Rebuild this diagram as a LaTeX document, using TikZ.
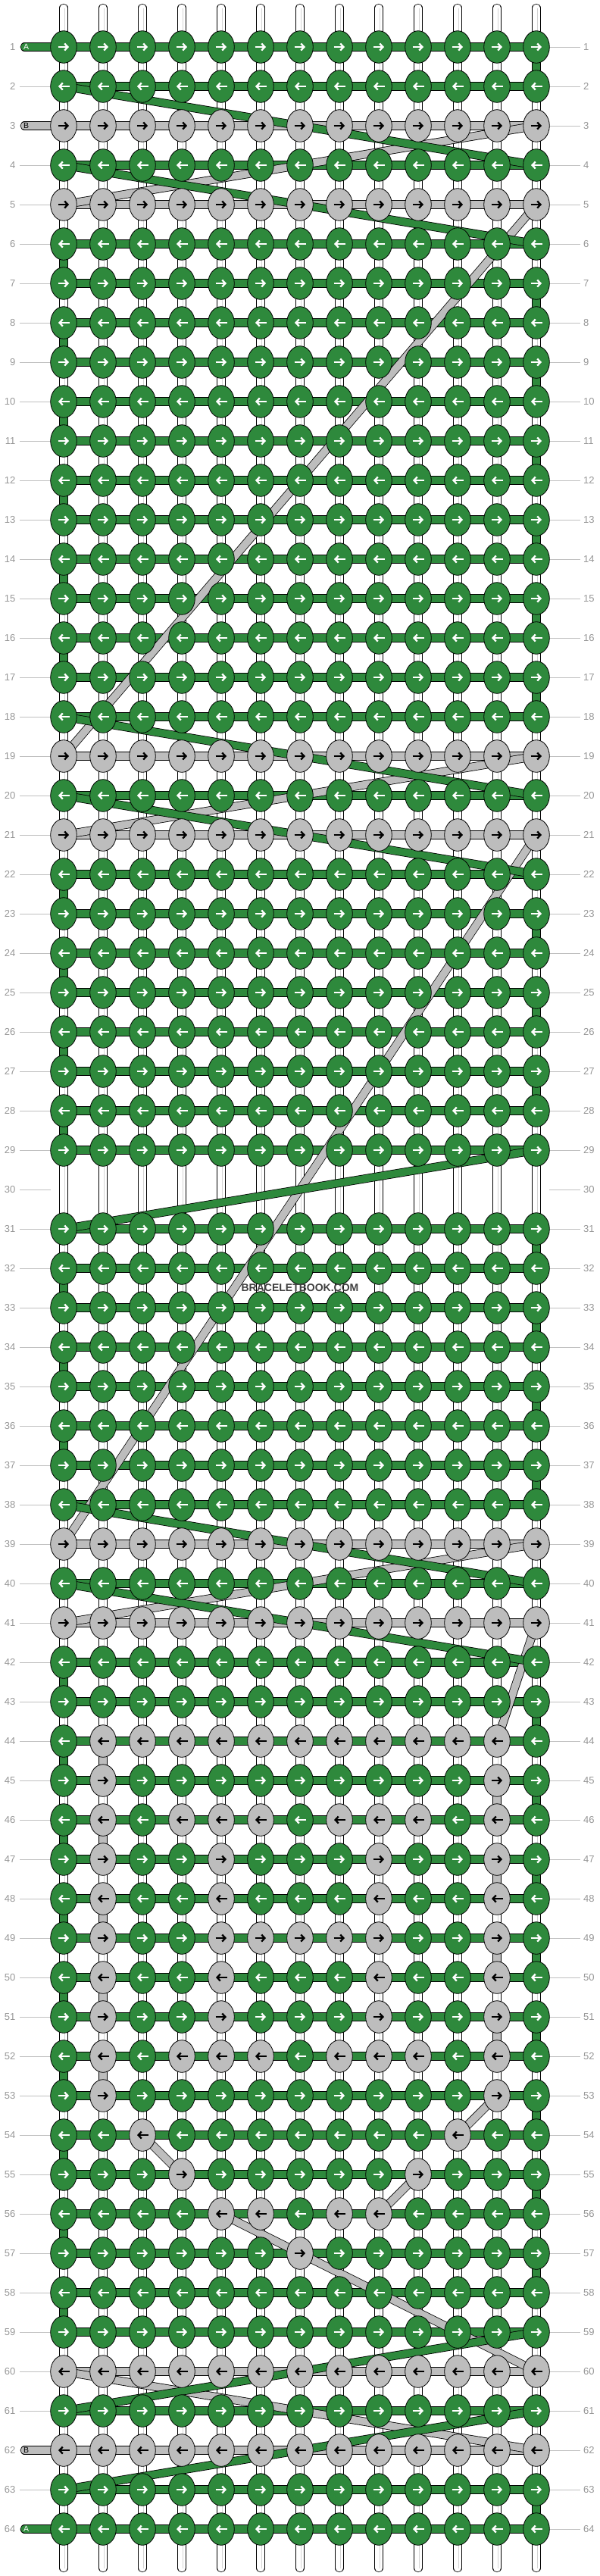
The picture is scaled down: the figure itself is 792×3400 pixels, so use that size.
\documentclass[tikz,border=0pt]{standalone}
\usepackage{fontspec}
\setmainfont{Liberation Sans}
\usetikzlibrary{shapes.geometric,arrows.meta}
\definecolor{kgreen}{RGB}{46,137,60}
\definecolor{kgray}{RGB}{189,189,189}
\definecolor{lblgray}{RGB}{150,150,150}
\definecolor{lnegray}{RGB}{192,192,192}
\definecolor{midline}{RGB}{212,212,212}
\definecolor{wmark}{RGB}{64,64,64}
\newcommand\graycols[2]{\foreach \c in {#2}{\expandafter\xdef\csname g-#1-\c\endcsname{1}}}
\graycols{3}{1,...,13}
\graycols{5}{1,...,13}
\graycols{19}{1,...,13}
\graycols{21}{1,...,13}
\graycols{39}{1,...,13}
\graycols{41}{1,...,13}
\graycols{60}{1,...,13}
\graycols{62}{1,...,13}
\graycols{44}{2,...,12}
\graycols{45}{2,12}
\graycols{46}{2,4,5,6,8,9,10,12}
\graycols{47}{2,5,9,12}
\graycols{48}{2,5,9,12}
\graycols{49}{2,5,6,7,8,9,12}
\graycols{50}{2,5,9,12}
\graycols{51}{2,5,9,12}
\graycols{52}{2,4,5,6,8,9,10,12}
\graycols{53}{2,12}
\graycols{54}{3,11}
\graycols{55}{4,10}
\graycols{56}{5,6,8,9}
\graycols{57}{7}
\begin{document}
\begin{tikzpicture}[x=1pt,y=-1pt,
 band/.style={draw=black,line width=0.8pt,double=#1,double distance=9.6pt},
 knot/.style={ellipse,draw=black,line width=0.8pt,minimum width=34.6pt,minimum height=42.6pt,inner sep=0pt},
 arr/.style={line width=2.3pt,-{Straight Barb[length=4.2pt,width=9pt]}},
 lbl/.style={text=lblgray,font=\fontsize{13}{13}\selectfont,inner sep=0pt},
 lline/.style={draw=lnegray,line width=1pt},
 capl/.style={font=\fontsize{10.5}{10.5}\selectfont,inner sep=0pt}]
\useasboundingbox (0,0) rectangle (792,3400);
% coordinates
\foreach \r in {1,...,64}{
  \foreach \c in {1,...,13}{
    \coordinate (p-\r-\c) at ({84+52*(\c-1)},{62+52*(\r-1)});
  }
}
\foreach \c in {1,...,13}{
  \coordinate (st-\c) at ({84+52*(\c-1)},10.5);
  \coordinate (sb-\c) at ({84+52*(\c-1)},3389.5);
  \draw[band=white,line cap=round] (st-\c) -- (sb-\c);
  \draw[midline,line width=1pt] ([xshift=1pt]st-\c) -- ([xshift=1pt]sb-\c);
}
% coloured vertical connectors
\foreach \r in {1,7,9,...,17,23,25,27,31,33,35,37,43,45,...,57,63}{
  \pgfmathtruncatemacro\rn{\r+1}
  \draw[band=kgreen] (p-\r-13) -- (p-\rn-13);}
\foreach \r in {6,8,...,16,22,24,26,28,32,34,36,42,44,...,58}{
  \pgfmathtruncatemacro\rn{\r+1}
  \draw[band=kgreen] (p-\r-1) -- (p-\rn-1);}
\foreach \r in {44,46,...,52}{
  \pgfmathtruncatemacro\rn{\r+1}
  \draw[band=kgray] (p-\r-2) -- (p-\rn-2);}
\foreach \r in {45,47,49,51}{
  \pgfmathtruncatemacro\rn{\r+1}
  \draw[band=kgray] (p-\r-12) -- (p-\rn-12);}
% row labels
\foreach \r in {1,...,64}{
  \pgfmathsetmacro\yy{62+52*(\r-1)}
  \node[lbl,anchor=east] (ll-\r) at (20.5,\yy) {\r};
  \node[lbl,anchor=west] (lr-\r) at (770,\yy) {\r};
  \coordinate (rla-\r) at (725,\yy);
  \coordinate (rlb-\r) at (766,\yy);
  \draw[lline] (rla-\r) -- (rlb-\r);
}
\foreach \r in {2,4,5,...,61,63}{
  \pgfmathsetmacro\yy{62+52*(\r-1)}
  \coordinate (lla-\r) at (26,\yy);
  \coordinate (llb-\r) at (67,\yy);
  \draw[lline] (lla-\r) -- (llb-\r);
}
% horizontal bars
\foreach \r in {1,...,29,31,32,...,64}{
  \ifcsname g-\r-1\endcsname\def\bc{kgray}\else\def\bc{kgreen}\fi
  \draw[band=\bc] (p-\r-1) -- (p-\r-13);
}
% start caps
\foreach \r/\cc/\tt/\tc in {1/kgreen/A/white,3/kgray/B/black,62/kgray/B/black,64/kgreen/A/white}{
  \pgfmathsetmacro\yy{62+52*(\r-1)}
  \coordinate (cap-\r) at (32.3,\yy);
  \draw[band=\cc,line cap=round] (cap-\r) -- (p-\r-1);
  \node[capl,text=\tc] (capt-\r) at (34.6,\yy) {\tt};
}
% gray diagonals
\draw[band=kgray] (p-3-13) -- (p-5-1);
\draw[band=kgray] (p-5-13) -- (p-19-1);
\draw[band=kgray] (p-19-13) -- (p-21-1);
\draw[band=kgray] (p-21-13) -- (p-39-1);
\draw[band=kgray] (p-39-13) -- (p-41-1);
\draw[band=kgray] (p-41-13) -- (p-44-12);
\draw[band=kgray] (p-53-12) -- (p-54-11);
\draw[band=kgray] (p-54-3) -- (p-55-4);
\draw[band=kgray] (p-55-10) -- (p-56-9);
\draw[band=kgray] (p-56-5) -- (p-57-7);
\draw[band=kgray] (p-57-7) -- (p-60-13);
\draw[band=kgray] (p-60-1) -- (p-62-13);
% green diagonals
\draw[band=kgreen] (p-2-1) -- (p-4-13);
\draw[band=kgreen] (p-4-1) -- (p-6-13);
\draw[band=kgreen] (p-18-1) -- (p-20-13);
\draw[band=kgreen] (p-20-1) -- (p-22-13);
\draw[band=kgreen] (p-29-13) -- (p-31-1);
\draw[band=kgreen] (p-38-1) -- (p-40-13);
\draw[band=kgreen] (p-40-1) -- (p-42-13);
\draw[band=kgreen] (p-59-13) -- (p-61-1);
\draw[band=kgreen] (p-61-13) -- (p-63-1);
% knots
\foreach \r in {1,...,29,31,32,...,64}{
  \foreach \c in {1,...,13}{
    \ifcsname g-\r-\c\endcsname\def\kf{kgray}\def\ka{black}\else\def\kf{kgreen}\def\ka{white}\fi
    \node[knot,fill=\kf] (k-\r-\c) at (p-\r-\c) {};
    \ifodd\r
      \draw[arr,\ka] ([xshift=-7.5pt]k-\r-\c.center) -- ([xshift=7pt]k-\r-\c.center);
    \else
      \draw[arr,\ka] ([xshift=7.5pt]k-\r-\c.center) -- ([xshift=-7pt]k-\r-\c.center);
    \fi
  }
}
\node[font=\bfseries\fontsize{14}{14}\selectfont,text=wmark,inner sep=0pt] (wm) at (396,1700) {BRACELETBOOK.COM};
\end{tikzpicture}
\end{document}
